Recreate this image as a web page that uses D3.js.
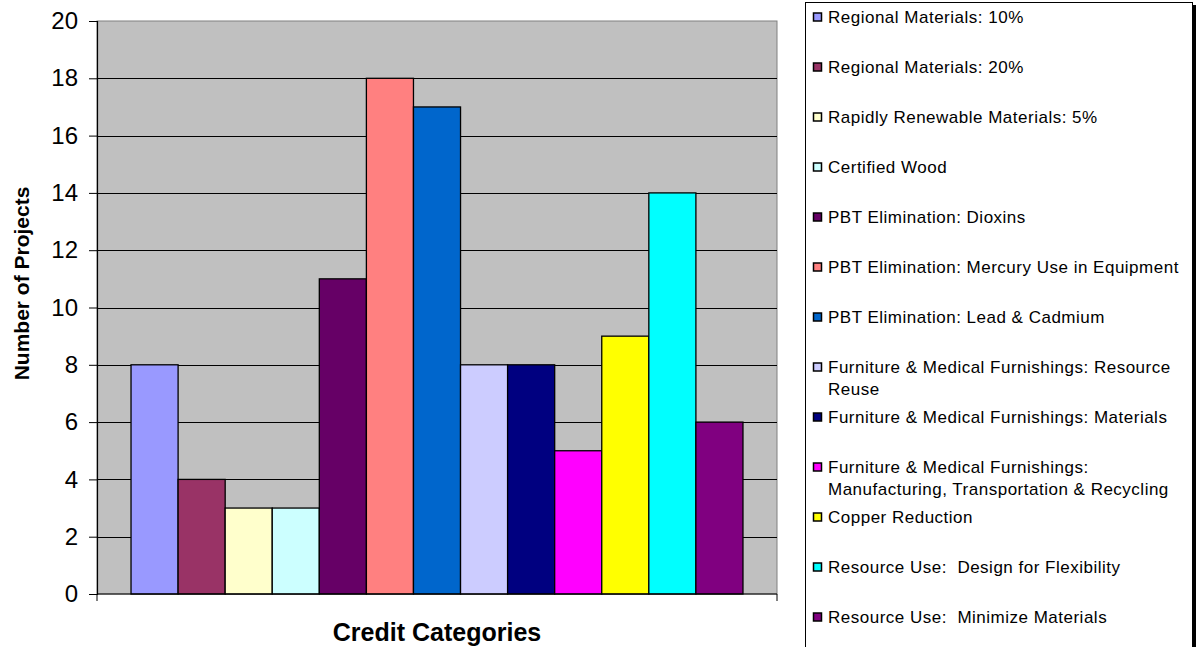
<!DOCTYPE html>
<html>
<head>
<meta charset="utf-8">
<script src="https://cdn.jsdelivr.net/npm/d3@7"></script>
<style>
  html, body { margin: 0; padding: 0; background: #ffffff; }
  svg { display: block; }
  text { font-family: "Liberation Sans", Arial, sans-serif; fill: #000; white-space: pre; }
</style>
</head>
<body>
<svg id="chart" width="1200" height="647"></svg>
<script>
// Credit categories (one group on the x axis) and the series shown in it
const categories = ["Credit Categories"];

const seriesNames = [
  "Regional Materials: 10%",
  "Regional Materials: 20%",
  "Rapidly Renewable Materials: 5%",
  "Certified Wood",
  "PBT Elimination: Dioxins",
  "PBT Elimination: Mercury Use in Equipment",
  "PBT Elimination: Lead & Cadmium",
  "Furniture & Medical Furnishings: Resource Reuse",
  "Furniture & Medical Furnishings: Materials",
  "Furniture & Medical Furnishings: Manufacturing, Transportation & Recycling",
  "Copper Reduction",
  "Resource Use:  Design for Flexibility",
  "Resource Use:  Minimize Materials"
];

// Number of projects per credit
const projectCounts = [8, 4, 3, 3, 11, 18, 17, 8, 8, 5, 9, 14, 6];

// Legend lines (long names wrap onto two lines)
const legendLines = [
  ["Regional Materials: 10%"],
  ["Regional Materials: 20%"],
  ["Rapidly Renewable Materials: 5%"],
  ["Certified Wood"],
  ["PBT Elimination: Dioxins"],
  ["PBT Elimination: Mercury Use in Equipment"],
  ["PBT Elimination: Lead & Cadmium"],
  ["Furniture & Medical Furnishings: Resource", "Reuse"],
  ["Furniture & Medical Furnishings: Materials"],
  ["Furniture & Medical Furnishings:", "Manufacturing, Transportation & Recycling"],
  ["Copper Reduction"],
  ["Resource Use:  Design for Flexibility"],
  ["Resource Use:  Minimize Materials"]
];

const yTicks = [0, 2, 4, 6, 8, 10, 12, 14, 16, 18, 20];

const seriesColors = [
  "#9999FF", "#993366", "#FFFFCC", "#CCFFFF", "#660066", "#FF8080", "#0066CC",
  "#CCCCFF", "#000080", "#FF00FF", "#FFFF00", "#00FFFF", "#800080"
];

const svg = d3.select("#chart");

const plot = { left: 97, right: 777, top: 21, bottom: 594 };

const y = d3.scaleLinear().domain([0, 20]).range([plot.bottom, plot.top]);

const x0 = d3.scaleBand()
  .domain(categories)
  .range([plot.left, plot.right])
  .paddingInner(0)
  .paddingOuter(0.0556);

const x1 = d3.scaleBand()
  .domain(seriesNames)
  .range([0, x0.bandwidth()])
  .padding(0);

const color = d3.scaleOrdinal().domain(seriesNames).range(seriesColors);

// Plot background
svg.append("rect")
  .attr("x", plot.left).attr("y", plot.top)
  .attr("width", plot.right - plot.left).attr("height", plot.bottom - plot.top)
  .attr("fill", "#C0C0C0")
  .attr("stroke", "#808080").attr("stroke-width", 1);

// Horizontal gridlines
svg.append("g")
  .selectAll("line")
  .data(yTicks.filter(t => t > 0 && t < 20))
  .join("line")
  .attr("x1", plot.left).attr("x2", plot.right)
  .attr("y1", d => Math.round(y(d)) + 0.5).attr("y2", d => Math.round(y(d)) + 0.5)
  .attr("stroke", "#000").attr("stroke-width", 1);

// Bars
const data = seriesNames.map((name, i) => ({ name, value: projectCounts[i] }));

svg.append("g")
  .attr("transform", `translate(${x0(categories[0])},0)`)
  .selectAll("rect")
  .data(data)
  .join("rect")
  .attr("x", d => x1(d.name))
  .attr("y", d => y(d.value))
  .attr("width", x1.bandwidth())
  .attr("height", d => y(0) - y(d.value))
  .attr("fill", d => color(d.name))
  .attr("stroke", "#000")
  .attr("stroke-width", 1.3);

// Y axis
const yAxis = d3.axisLeft(y).tickValues(yTicks).tickSize(8).tickPadding(11);
const gy = svg.append("g")
  .attr("transform", `translate(${plot.left},0)`)
  .call(yAxis);
gy.select(".domain").attr("stroke", "#000").attr("stroke-width", 1.2);
gy.selectAll(".tick line").attr("stroke", "#000");
gy.selectAll(".tick text")
  .style("font-family", '"Liberation Sans", Arial, sans-serif')
  .style("font-size", "24px")
  .attr("fill", "#000");

// X axis: baseline with tick marks at the category edges
const gx = svg.append("g").attr("transform", `translate(0,${plot.bottom})`);
gx.append("line")
  .attr("x1", plot.left).attr("x2", plot.right)
  .attr("y1", 0).attr("y2", 0)
  .attr("stroke", "#000").attr("stroke-width", 1.2);
gx.selectAll("line.edge")
  .data([plot.left, plot.right])
  .join("line")
  .attr("class", "edge")
  .attr("x1", d => d).attr("x2", d => d)
  .attr("y1", 0).attr("y2", 7)
  .attr("stroke", "#000").attr("stroke-width", 1);

// Axis titles
svg.append("text")
  .attr("x", (plot.left + plot.right) / 2)
  .attr("y", 641)
  .attr("text-anchor", "middle")
  .style("font-size", "25px")
  .style("font-weight", "bold")
  .text("Credit Categories");

svg.append("text")
  .attr("transform", `translate(29, ${(plot.top + plot.bottom) / 2 - 24}) rotate(-90)`)
  .attr("text-anchor", "middle")
  .style("font-size", "21px")
  .style("font-weight", "bold")
  .text("Number of Projects");

// Legend
const legend = svg.append("g");
legend.append("rect")
  .attr("x", 808).attr("y", 5).attr("width", 388).attr("height", 660)
  .attr("fill", "#000");
legend.append("rect")
  .attr("x", 805.5).attr("y", 2.5).attr("width", 387).attr("height", 660)
  .attr("fill", "#fff").attr("stroke", "#000").attr("stroke-width", 1);

const rowY = d3.scaleLinear().domain([0, 12]).range([17, 617]);

const items = legend.selectAll("g.item")
  .data(seriesNames)
  .join("g")
  .attr("class", "item")
  .attr("transform", (d, i) => `translate(0,${rowY(i)})`);

items.append("rect")
  .attr("x", 813.5).attr("y", -4)
  .attr("width", 8).attr("height", 8)
  .attr("fill", d => color(d))
  .attr("stroke", "#000").attr("stroke-width", 1.5);

items.append("text")
  .attr("x", 828)
  .attr("y", 6)
  .style("font-size", "17px")
  .style("letter-spacing", "0.5px")
  .selectAll("tspan")
  .data((d, i) => legendLines[i])
  .join("tspan")
  .attr("x", 828)
  .attr("dy", (d, j) => j === 0 ? 0 : 21.5)
  .text(d => d);
</script>
</body>
</html>
